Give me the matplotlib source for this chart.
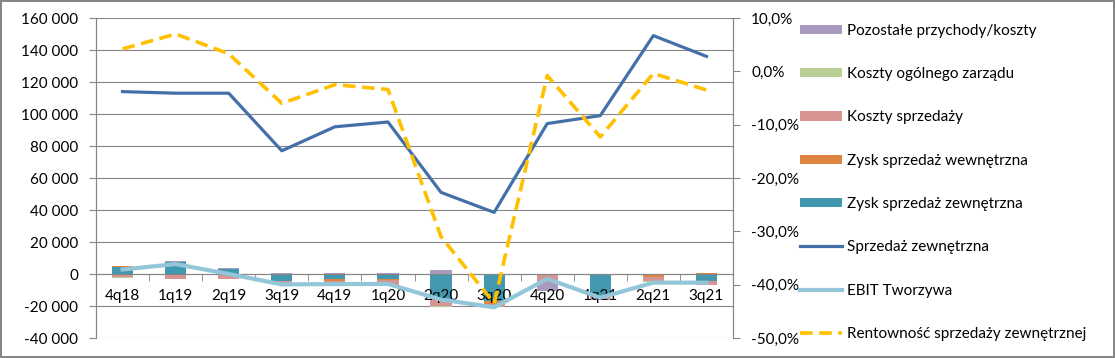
import numpy as np
import matplotlib.pyplot as plt
from matplotlib.ticker import FuncFormatter, FixedLocator
from matplotlib.patches import Patch
from matplotlib.lines import Line2D

plt.rcParams['font.family'] = ['Lato', 'DejaVu Sans']

# quarters
quarters = ['4q18', '1q19', '2q19', '3q19', '4q19', '1q20',
            '2q20', '3q20', '4q20', '1q21', '2q21', '3q21']

# stacked components (tys.)
zysk_zewn = [4400, 7300, 3100, -4600, -3000, -3300, -15500, -17000, -400, -14000, 0, -4600]
zysk_wewn = [600, 500, 0, 0, -1200, -600, -800, -1500, 0, -400, -1900, 600]
koszty_sprz = [-2100, -2900, -2900, -1200, -2400, -2700, -3800, -2100, -4400, -1000, -2700, -2200]
koszty_zarz = [-200, -400, -400, -300, -300, -200, -400, -300, -200, -200, -200, -200]
pozostale = [-400, 300, 400, 600, 600, 600, 2500, 300, -5700, -500, -400, 0]

# lines
sprzedaz_zewn = [114000, 113000, 113000, 77000, 92000, 95000,
                 51000, 38500, 94000, 99000, 149000, 136000]
ebit = [2800, 6200, 0, -6500, -6300, -6200, -16000, -20800, -3000, -14800, -5400, -5400]
rentownosc = [4.2, 7.0, 3.3, -6.0, -2.5, -3.4, -31.0, -43.5, -0.8, -12.3, -0.4, -3.5]

grey = '#868686'
fig = plt.figure(figsize=(11.15, 3.58), dpi=100, edgecolor=grey, linewidth=1.5)
ax = fig.add_axes([96 / 1115, 20 / 358, 637 / 1115, 320 / 358])
ax2 = ax.twinx()

x = np.arange(len(quarters))
series = [
    (zysk_zewn, '#4198AF', 'Zysk sprzedaż zewnętrzna'),
    (zysk_wewn, '#DE8541', 'Zysk sprzedaż wewnętrzna'),
    (koszty_sprz, '#D69493', 'Koszty sprzedaży'),
    (koszty_zarz, '#B9CF96', 'Koszty ogólnego zarządu'),
    (pozostale, '#A99BBF', 'Pozostałe przychody/koszty'),
]
pos_bottom = np.zeros(len(x))
neg_bottom = np.zeros(len(x))
handles = {}
for vals, col, lab in series:
    v = np.array(vals, dtype=float)
    bottom = np.where(v >= 0, pos_bottom, neg_bottom)
    ax.bar(x, v, width=0.4, bottom=bottom, color=col, zorder=2)
    pos_bottom += np.where(v >= 0, v, 0)
    neg_bottom += np.where(v < 0, v, 0)
    handles[lab] = Patch(facecolor=col)

ax.plot(x, sprzedaz_zewn, color='#4470A8', lw=2.3, zorder=4)
ax.plot(x, ebit, color='#93C6D9', lw=3.0, zorder=5)
ax2.plot(x, rentownosc, color='#FFC000', lw=2.6, dashes=(3.5, 1.8), zorder=5)

ax.set_xlim(-0.5, len(x) - 0.5)
ax.set_ylim(-40000, 160000)
ax.set_yticks(np.arange(-40000, 160001, 20000))
ax.yaxis.set_major_formatter(FuncFormatter(lambda v, p: f"{int(v):,}".replace(',', ' ')))
ax.grid(axis='y', color=grey, lw=0.8)
ax.set_axisbelow(True)

ax2.set_ylim(-50, 10)
ax2.set_yticks(np.arange(-50, 11, 10))
ax2.yaxis.set_major_formatter(FuncFormatter(lambda v, p: f"{v:.1f}%".replace('.', ',')))

# category axis at zero, labels drawn as text over the bars
ax.spines['bottom'].set_position(('data', 0))
ax.spines['bottom'].set_color(grey)
ax.set_xticks(x)
ax.set_xticklabels([])
ax.xaxis.set_minor_locator(FixedLocator(np.arange(-0.5, len(x), 1.0)))
ax.tick_params(axis='x', which='major', length=0)
ax.tick_params(axis='x', which='minor', length=5, color=grey, direction='out')
for i, q in enumerate(quarters):
    ax.annotate(q, xy=(i, 0), xytext=(0, -11), textcoords='offset points',
                ha='center', va='top', fontsize=11, zorder=3)

ax.tick_params(axis='y', length=5, color=grey, labelsize=11, pad=8)
ax2.tick_params(axis='y', length=5, color=grey, labelsize=11, pad=8)

for a in (ax, ax2):
    a.spines['top'].set_visible(False)
    a.spines['left'].set_color(grey)
    a.spines['right'].set_color(grey)
ax2.spines['bottom'].set_visible(False)

leg_handles = [handles['Pozostałe przychody/koszty'], handles['Koszty ogólnego zarządu'],
               handles['Koszty sprzedaży'], handles['Zysk sprzedaż wewnętrzna'],
               handles['Zysk sprzedaż zewnętrzna'],
               Line2D([], [], color='#4470A8', lw=2.3),
               Line2D([], [], color='#93C6D9', lw=3.0),
               Line2D([], [], color='#FFC000', lw=2.6, dashes=(3.5, 1.8))]
leg_labels = ['Pozostałe przychody/koszty', 'Koszty ogólnego zarządu', 'Koszty sprzedaży',
              'Zysk sprzedaż wewnętrzna', 'Zysk sprzedaż zewnętrzna', 'Sprzedaż zewnętrzna',
              'EBIT Tworzywa', 'Rentowność sprzedaży zewnętrznej']
fig.legend(leg_handles, leg_labels, loc='upper left', bbox_to_anchor=(792 / 1115, 1 - 16 / 358),
           frameon=False, fontsize=11, handlelength=2.75, handleheight=0.55,
           handletextpad=0.35, labelspacing=1.92, borderpad=0)

fig.savefig('out.png', dpi=100, edgecolor=grey)
